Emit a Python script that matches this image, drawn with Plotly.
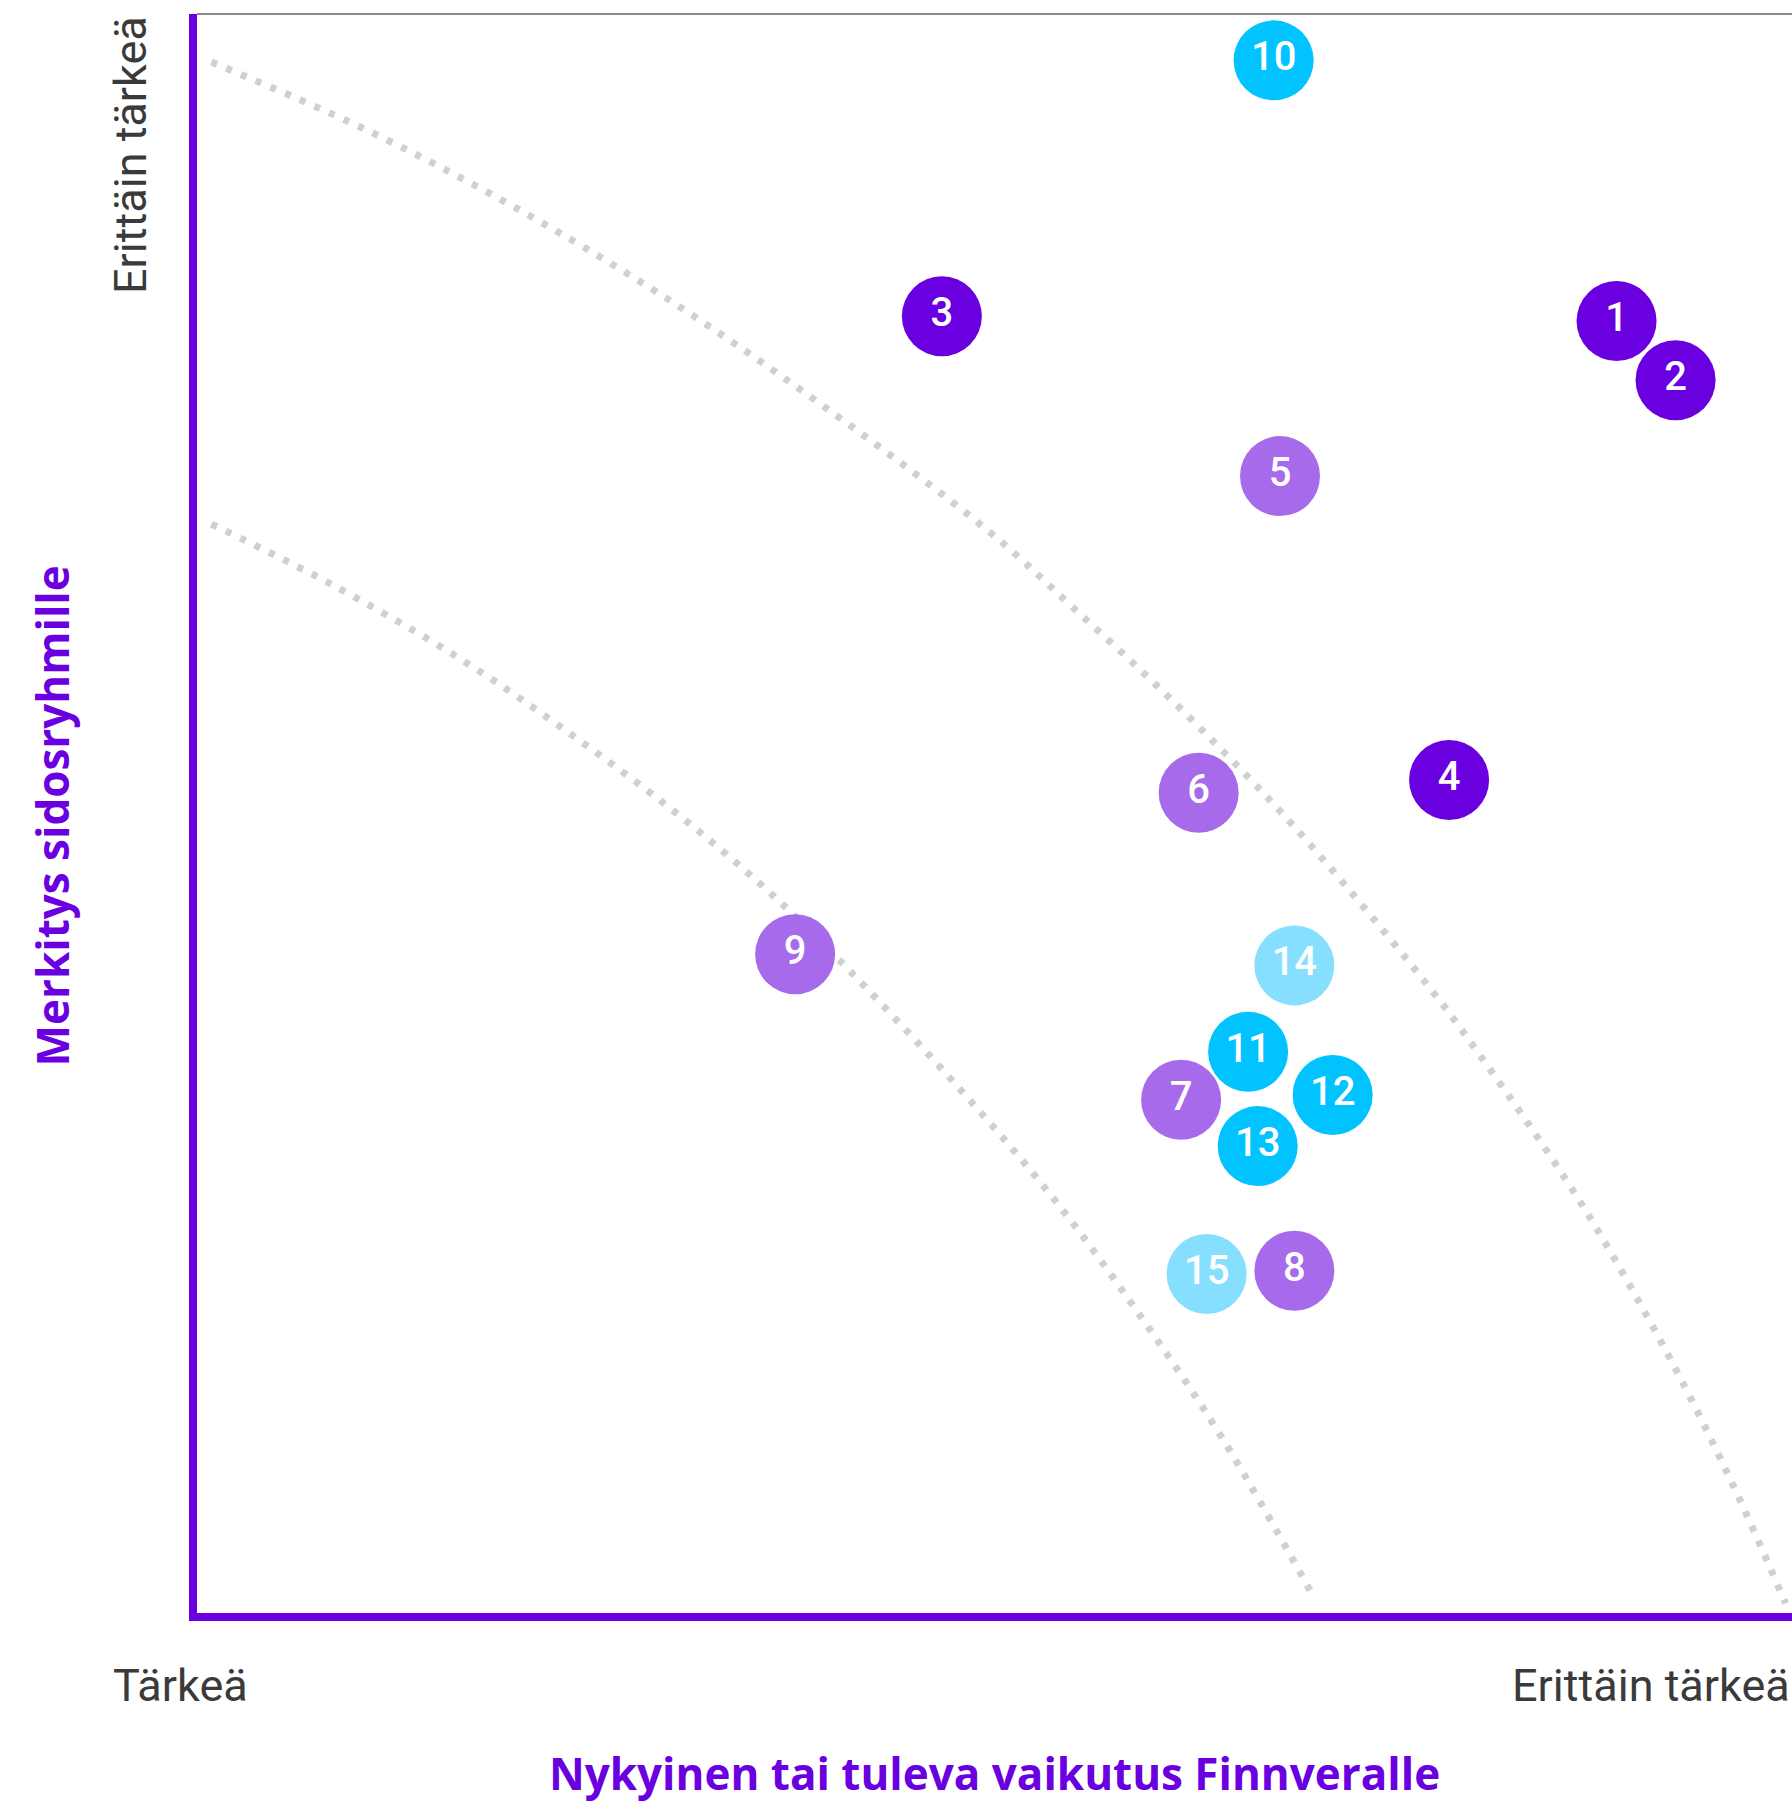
import plotly.graph_objects as go

# bubble positions on a 0-100 scale (x: impact for Finnvera, y: importance for stakeholders)
labels = ["1", "2", "3", "4", "5", "6", "7", "8", "9", "10", "11", "12", "13", "14", "15"]
x_vals = [89.0, 92.7, 46.7, 78.5, 67.9, 62.8, 61.7, 68.8, 37.5, 67.5, 65.9, 71.2, 66.5, 68.8, 63.3]
y_vals = [80.8, 77.1, 81.1, 52.1, 71.1, 51.3, 32.1, 21.4, 41.2, 97.1, 35.1, 32.4, 29.2, 40.5, 21.2]
groups = ["dark", "dark", "dark", "dark", "mid", "mid", "mid", "mid", "mid",
          "cyan", "cyan", "cyan", "cyan", "light", "light"]

# dotted guide curves
outer_x = [0.9, 10.3, 19.4, 29.0, 39.1, 49.7, 54.9, 60.9, 67.3, 72.0, 77.2, 79.7, 86.6, 92.2, 96.3, 99.6]
outer_y = [97.0, 92.9, 88.2, 82.5, 75.6, 67.6, 62.9, 57.3, 50.8, 45.5, 39.2, 35.9, 25.9, 16.2, 8.0, 0.6]
inner_x = [0.9, 8.3, 16.3, 23.1, 29.7, 35.2, 40.1, 47.8, 53.8, 59.2, 64.3, 69.9]
inner_y = [68.1, 64.4, 59.8, 55.2, 50.3, 45.7, 41.0, 32.8, 25.8, 18.5, 10.9, 1.2]

colors = {"dark": "#6A00DF", "mid": "#A66AEA", "cyan": "#00C3FF", "light": "#86DFFF"}
purple = "#6A00E0"
grey_text = "#3A3A3A"

fig = go.Figure()

for cx, cy in [(outer_x, outer_y), (inner_x, inner_y)]:
    fig.add_trace(go.Scatter(x=cx, y=cy, mode="lines", line_shape="spline",
                             line=dict(color="#D0D0D0", width=7, dash="6px,10px"),
                             hoverinfo="skip"))

fig.add_trace(go.Scatter(
    x=x_vals, y=y_vals, mode="markers+text", text=labels,
    textposition="middle center",
    textfont=dict(family="Roboto", size=40, color="white", weight=500),
    marker=dict(size=80, color=[colors[g] for g in groups], line=dict(width=0)),
    cliponaxis=False,
))

fig.update_xaxes(range=[0, 100], showgrid=False, zeroline=False, showticklabels=False,
                 ticks="", showline=True, linecolor=purple, linewidth=8)
fig.update_yaxes(range=[0, 100], showgrid=False, zeroline=False, showticklabels=False,
                 ticks="", showline=True, linecolor=purple, linewidth=8)

fig.add_shape(type="line", xref="paper", yref="paper", x0=0, x1=1, y0=1, y1=1,
              line=dict(color="#8A8A8A", width=2))

ann_font = dict(family="Roboto", size=45, color=grey_text)
fig.add_annotation(text="Tärkeä", xref="paper", yref="paper", x=0, y=0,
                   xanchor="left", yanchor="middle", xshift=-86, yshift=-72,
                   showarrow=False, font=ann_font)
fig.add_annotation(text="Erittäin tärkeä", xref="paper", yref="paper", x=1, y=0,
                   xanchor="right", yanchor="middle", yshift=-72,
                   showarrow=False, font=ann_font)
fig.add_annotation(text="Erittäin tärkeä", xref="paper", yref="paper", x=0, y=1,
                   xanchor="center", yanchor="top", xshift=-67, textangle=-90,
                   showarrow=False, font=ann_font)
fig.add_annotation(text="<b>Nykyinen tai tuleva vaikutus Finnveralle</b>", xref="paper", yref="paper",
                   x=0.5, y=0, xanchor="center", yanchor="middle", yshift=-160,
                   showarrow=False, font=dict(family="Open Sans", size=44, color=purple))
fig.add_annotation(text="<b>Merkitys sidosryhmille</b>", xref="paper", yref="paper",
                   x=0, y=0.5, xanchor="center", yanchor="middle", xshift=-146, yshift=-3,
                   textangle=-90, showarrow=False, font=dict(family="Open Sans", size=44, color=purple))

fig.update_layout(width=1792, height=1803, showlegend=False,
                  margin=dict(l=197, r=0, t=14, b=190),
                  plot_bgcolor="white", paper_bgcolor="white")

# drop the page margin and scrollbars so the figure fills the window exactly
fig.write_html("out.html", config={"displayModeBar": False},
               post_script="document.body.style.margin='0';document.body.style.overflow='hidden';")
